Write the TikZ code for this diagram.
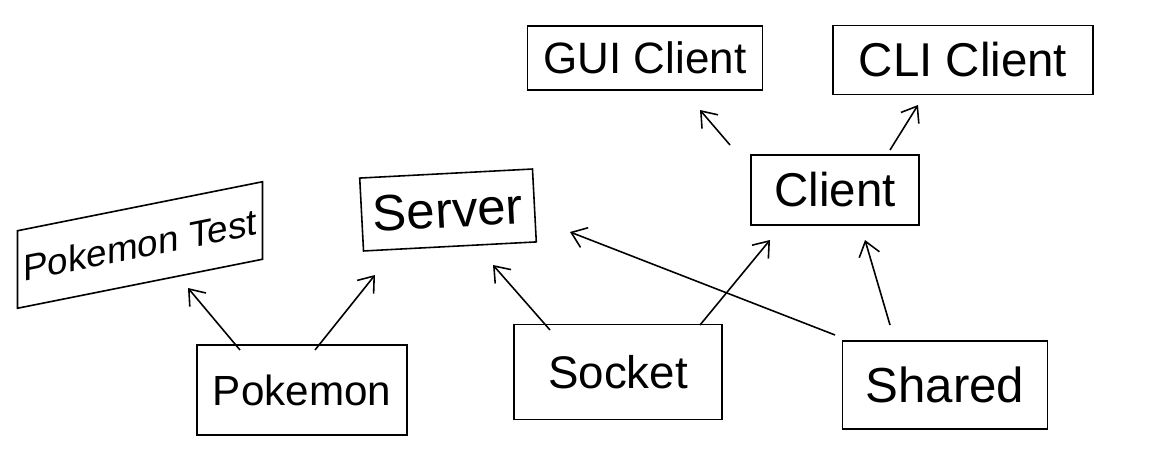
\documentclass[tikz,border=0pt]{standalone}
\usepackage{fontspec}
\setmainfont{Liberation Sans}
\usetikzlibrary{positioning,arrows.meta}
\tikzset{
  module/.style={draw, line width=0.9pt, inner sep=0pt, align=center},
  dep/.style={-{Straight Barb[length=8pt,width=12pt]}, line width=0.9pt},
}
\newcommand{\handsize}[1]{\fontsize{#1}{#1}\selectfont}

\begin{document}
\begin{tikzpicture}
  \useasboundingbox (0,0) rectangle (23.3,-9.16);
  % modules
  \node[module, minimum width=4.7cm, minimum height=1.28cm, font=\handsize{25}] (guiclient) at (12.9,-1.16) {GUI Client};
  \node[module, minimum width=5.2cm, minimum height=1.38cm, font=\handsize{27}] (cliclient) at (19.26,-1.2) {CLI Client};
  \node[module, minimum width=3.36cm, minimum height=1.4cm, font=\handsize{27}] (client) at (16.7,-3.8) {Client};
  \node[module, minimum width=3.46cm, minimum height=1.46cm, font=\handsize{29}, rotate=3] (server) at (8.96,-4.2) {Server};
  \node[module, minimum width=4.9cm, minimum height=1.55cm, font=\handsize{21}, yslant=0.2] (pkmtest) at (2.8,-4.9) {Pokemon Test};
  \node[module, minimum width=4.2cm, minimum height=1.8cm, font=\handsize{24}] (pokemon) at (6.04,-7.8) {Pokemon};
  \node[module, minimum width=4.16cm, minimum height=1.9cm, font=\handsize{26}] (socket) at (12.36,-7.44) {Socket};
  \node[module, minimum width=4.1cm, minimum height=1.76cm, font=\handsize{28}] (shared) at (18.9,-7.7) {Shared};
  % dependencies
  \draw[dep] ([shift={(-1.24,0.8)}]pokemon.center) -- ([shift={(0.96,-0.86)}]pkmtest.center);
  \draw[dep] ([shift={(0.26,0.8)}]pokemon.center) -- ([shift={(-1.46,-1.3)}]server.center);
  \draw[dep] ([shift={(-1.36,0.84)}]socket.center) -- ([shift={(0.9,-1.1)}]server.center);
  \draw[dep] ([shift={(1.64,0.94)}]socket.center) -- ([shift={(-1.3,-1.0)}]client.center);
  \draw[dep] ([shift={(-2.2,1.0)}]shared.center) -- ([shift={(2.44,-0.44)}]server.center);
  \draw[dep] ([shift={(-1.1,1.2)}]shared.center) -- ([shift={(0.6,-1.0)}]client.center);
  \draw[dep] ([shift={(-2.1,0.9)}]client.center) -- ([shift={(1.1,-1.04)}]guiclient.center);
  \draw[dep] ([shift={(1.1,0.8)}]client.center) -- ([shift={(-0.9,-0.9)}]cliclient.center);
\end{tikzpicture}
\end{document}
